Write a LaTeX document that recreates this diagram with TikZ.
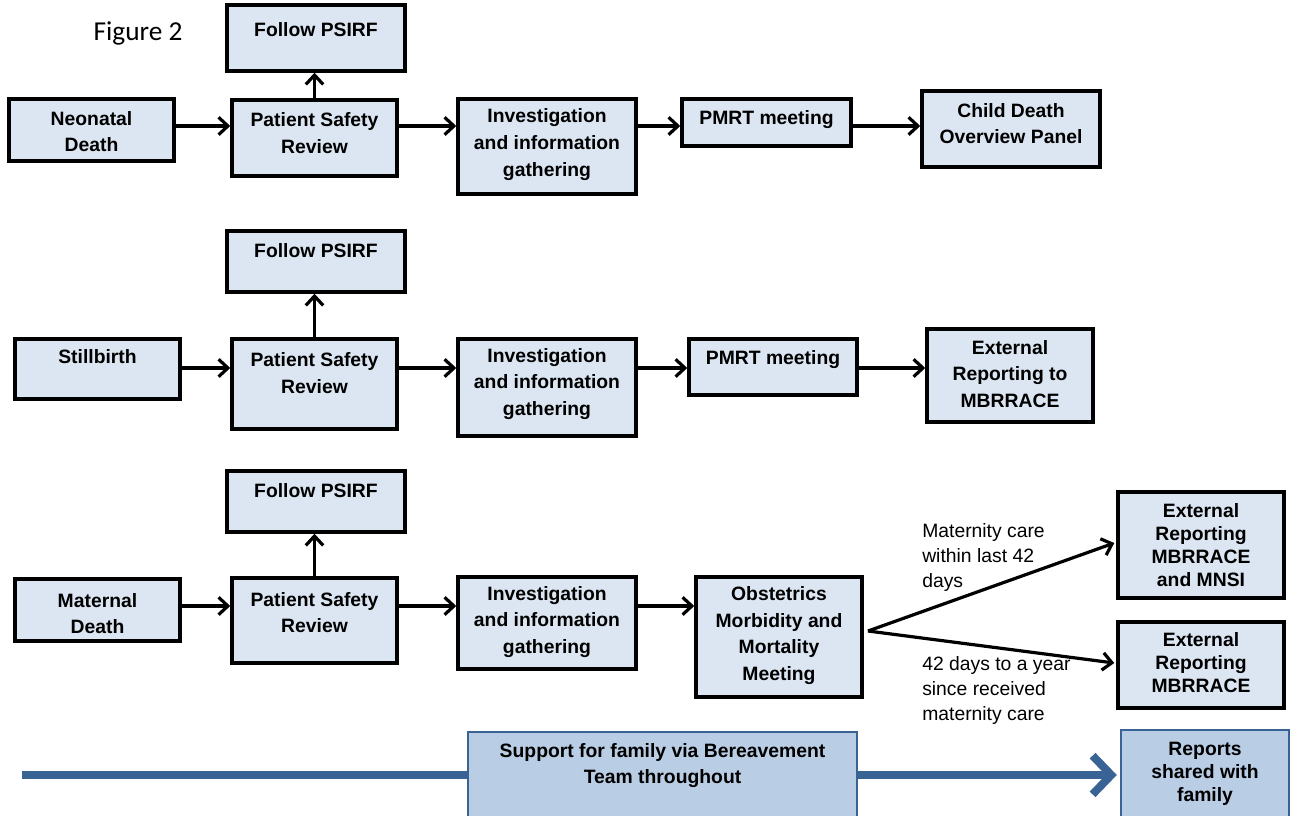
\documentclass[tikz,border=0pt]{standalone}
\usepackage{fontspec}
\setmainfont{Liberation Sans}
\newfontfamily\figfont{Carlito}
\usetikzlibrary{arrows.meta,fit,calc}
\definecolor{boxfill}{HTML}{DCE6F2}
\definecolor{supfill}{HTML}{B9CDE5}
\definecolor{supline}{HTML}{3A6395}
\tikzset{
  box/.style={draw=black, fill=boxfill, line width=2.6pt, inner sep=0pt},
  supbox/.style={draw=supline, fill=supfill, line width=1.8pt, inner sep=0pt},
  txt/.style={font=\bfseries\fontsize{14.5}{20}\selectfont, align=center, inner sep=0pt},
  tighttxt/.style={font=\bfseries\fontsize{14.5}{17.3}\selectfont, align=center, inner sep=0pt},
  lbl/.style={font=\fontsize{14.5}{19.1}\selectfont, align=left, inner sep=0pt, anchor=west},
  arr/.style={line width=2.4pt, -{Straight Barb[length=7pt, width=13pt, line width=2.4pt]}},
  bigarr/.style={draw=supline, line width=6.5pt, -{Straight Barb[length=14pt, width=29pt, line width=6pt]}}
}
% box from corner (x1,y1) to (x2,y2) in pixel-like units, text centred at height ty
\newcommand\flowbox[8][box]{%
  \node[#1, fit={(#3,#4) (#5,#6)}] (#2) {};
  \node[txt] (#2-t) at ($(#2.center |- 0,#7)$) {#8};
}
\begin{document}
\begin{tikzpicture}[x=0.75pt, y=-0.75pt]
\useasboundingbox (0,0) rectangle (1291,816);
\clip (0,0) rectangle (1291,816);

\node[font=\figfont\fontsize{20.5}{24}\selectfont, inner sep=0pt] (title) at (138,33) {Figure 2};

% row 1: neonatal death
\flowbox{nd}{9}{99}{174}{161}{131.5}{Neonatal\\Death}
\flowbox{f1}{227}{5}{405}{71}{30}{Follow PSIRF}
\flowbox{p1}{232}{100}{397}{176}{133}{Patient Safety\\Review}
\flowbox{i1}{458}{99}{636}{194}{144.5}{Investigation\\and information\\gathering}
\flowbox{m1}{682}{99}{851}{146}{120}{PMRT meeting}
\flowbox{c1}{922}{91}{1100}{167}{123.5}{Child Death\\Overview Panel}
\coordinate (r1) at (0,126);
\draw[arr] (nd.east |- r1) -- (p1.west |- r1);
\draw[arr] (p1.east |- r1) -- (i1.west |- r1);
\draw[arr] (i1.east |- r1) -- (m1.west |- r1);
\draw[arr] (m1.east |- r1) -- (c1.west |- r1);
\draw[arr] (p1.north) -- (p1.north |- f1.south);

% row 2: stillbirth
\flowbox{sb}{15}{339}{180}{399}{357}{Stillbirth}
\flowbox{f2}{227}{231}{405}{292}{251}{Follow PSIRF}
\flowbox{p2}{232}{339}{397}{429}{373}{Patient Safety\\Review}
\flowbox{i2}{458}{339}{636}{436}{384}{Investigation\\and information\\gathering}
\flowbox{m2}{689}{339}{857}{395}{360}{PMRT meeting}
\flowbox{e2}{927}{329}{1093}{422}{374}{External\\Reporting to\\MBRRACE}
\coordinate (r2) at (0,368);
\draw[arr] (sb.east |- r2) -- (p2.west |- r2);
\draw[arr] (p2.east |- r2) -- (i2.west |- r2);
\draw[arr] (i2.east |- r2) -- (m2.west |- r2);
\draw[arr] (m2.east |- r2) -- (e2.west |- r2);
\draw[arr] (p2.north) -- (p2.north |- f2.south);

% row 3: maternal death
\flowbox{md}{15}{579}{180}{641}{613.5}{Maternal\\Death}
\flowbox{f3}{227}{471}{405}{532}{491}{Follow PSIRF}
\flowbox{p3}{232}{578}{397}{663}{612.5}{Patient Safety\\Review}
\flowbox{i3}{458}{577}{636}{669}{622}{Investigation\\and information\\gathering}
\flowbox{ob}{696}{577}{862}{697}{635.5}{Obstetrics\\Morbidity and\\Mortality\\Meeting}
\node[box, fit={(1118,492) (1284,598)}] (ea) {};
\node[tighttxt] (ea-t) at ($(ea.center |- 0,545)$) {External\\Reporting\\MBRRACE\\and MNSI};
\node[box, fit={(1118,622) (1284,708)}] (eb) {};
\node[tighttxt] (eb-t) at ($(eb.center |- 0,663)$) {External\\Reporting\\MBRRACE};
\coordinate (r3) at (0,606);
\draw[arr] (md.east |- r3) -- (p3.west |- r3);
\draw[arr] (p3.east |- r3) -- (i3.west |- r3);
\draw[arr] (i3.east |- r3) -- (ob.west |- r3);
\draw[arr] (p3.north) -- (p3.north |- f3.south);
\coordinate (br) at (868,631);
\draw[arr] (br) -- ($(ea.west)+(-2,-2)$);
\draw[arr] (br) -- ($(eb.west)+(-2,-2)$);
\node[lbl] (lab1) at (922,557.5) {Maternity care\\within last 42\\days};
\node[lbl] (lab2) at (922,690.5) {42 days to a year\\since received\\maternity care};

% bereavement support band
\node[supbox, fit={(468,732) (857,840)}] (sup) {};
\node[txt] (sup-t) at ($(sup.center |- 0,765.5)$) {Support for family via Bereavement\\Team throughout};
\node[supbox, fit={(1121,730) (1289,840)}] (rep) {};
\node[tighttxt] (rep-t) at ($(rep.center |- 0,773.5)$) {Reports\\shared with\\family};
\coordinate (bl) at (22,775);
\draw[draw=supline, line width=6.5pt] (bl) -- (sup.west |- bl);
\draw[bigarr] (sup.east |- bl) -- ($(rep.west |- bl)+(-3,0)$);
\end{tikzpicture}
\end{document}
